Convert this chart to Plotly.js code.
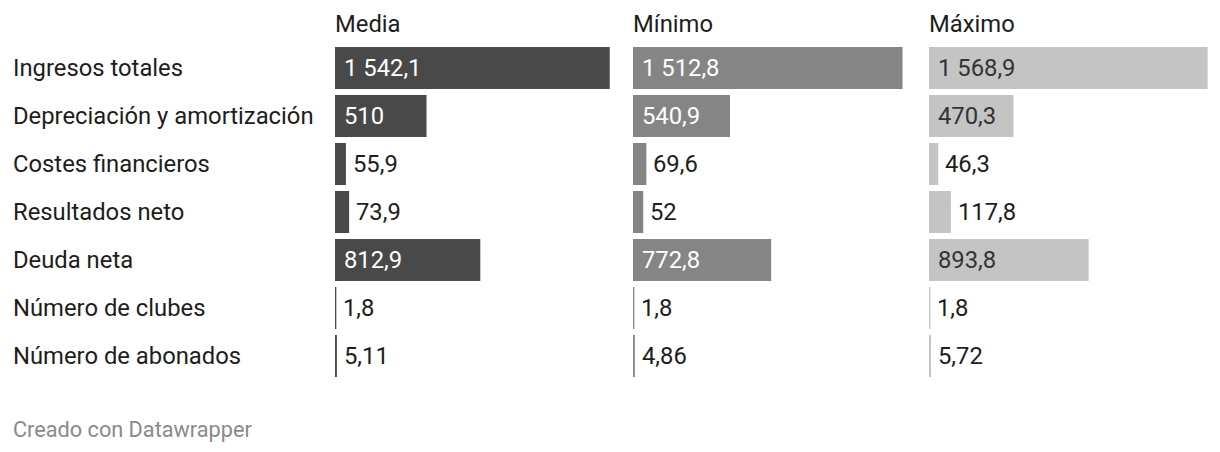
<!DOCTYPE html>
<html>
<head>
<meta charset="utf-8">
<script src="https://cdn.plot.ly/plotly-3.0.1.min.js"></script>
<style>
  html, body { margin: 0; padding: 0; background: #ffffff; }
  #chart { width: 1220px; height: 452px; }
</style>
</head>
<body>
<div id="chart"></div>
<script>
const categories = [
  "Ingresos totales",
  "Depreciación y amortización",
  "Costes financieros",
  "Resultados neto",
  "Deuda neta",
  "Número de clubes",
  "Número de abonados"
];
const seriesNames = ["Media", "Mínimo", "Máximo"];
const media  = [1542.1, 510, 55.9, 73.9, 812.9, 1.8, 5.11];
const minimo = [1512.8, 540.9, 69.6, 52, 772.8, 1.8, 4.86];
const maximo = [1568.9, 470.3, 46.3, 117.8, 893.8, 1.8, 5.72];
const valueLabels = [
  ["1 542,1", "510", "55,9", "73,9", "812,9", "1,8", "5,11"],
  ["1 512,8", "540,9", "69,6", "52", "772,8", "1,8", "4,86"],
  ["1 568,9", "470,3", "46,3", "117,8", "893,8", "1,8", "5,72"]
];

const W = 1220, H = 452;
const FONT = "Roboto, sans-serif";
const FS = 23.8;
const series = [media, minimo, maximo];
const barColors = ["#494949", "#858585", "#c4c4c4"];
const insideText = ["#ffffff", "#ffffff", "#333333"];
const colLeft = [334, 632, 928];
const colWidth = 278.5;
const xMax = 1568.9;

const traces = [];
const annotations = [];
const layout = {
  width: W, height: H,
  margin: {l: 0, r: 0, t: 0, b: 0},
  paper_bgcolor: "#ffffff",
  plot_bgcolor: "#ffffff",
  showlegend: false,
  bargap: 1 - 40/48,
  font: {family: FONT, size: FS, color: "#1d1d1d"},
  annotations: annotations
};

const yTop = 44, yBot = 380;
const yDomain = [1 - yBot / H, 1 - yTop / H];

series.forEach((vals, i) => {
  const ax = i === 0 ? "" : String(i + 1);
  traces.push({
    type: "bar",
    orientation: "h",
    x: vals,
    y: categories,
    xaxis: "x" + ax,
    yaxis: "y",
    marker: {color: barColors[i], line: {color: barColors[i], width: 2}},
    hoverinfo: "skip"
  });
  layout["xaxis" + ax] = {
    domain: [(colLeft[i] + 1) / W, (colLeft[i] + 1 + colWidth) / W],
    range: [0, xMax],
    showgrid: false, zeroline: false, showticklabels: false,
    showline: false, ticks: "", fixedrange: true
  };
  annotations.push({
    xref: "paper", yref: "paper",
    x: colLeft[i] / W, y: 1 - 24 / H,
    xanchor: "left", yanchor: "middle",
    xshift: -1,
    text: seriesNames[i], showarrow: false,
    font: {family: FONT, size: FS, color: "#1d1d1d"}
  });
  vals.forEach((v, j) => {
    const pxw = v / xMax * colWidth;
    const inside = pxw > 60;
    annotations.push({
      xref: "x" + ax, yref: "y",
      x: inside ? 0 : v, y: categories[j],
      xanchor: "left", yanchor: "middle",
      xshift: inside ? 7 : 6,
      text: valueLabels[i][j], showarrow: false,
      font: {family: FONT, size: FS, color: inside ? insideText[i] : "#1d1d1d"}
    });
  });
});

layout.yaxis = {
  domain: yDomain,
  type: "category",
  range: [categories.length - 0.5, -0.5],
  showgrid: false, zeroline: false, showticklabels: false,
  showline: false, ticks: "", fixedrange: true
};

categories.forEach((c) => {
  annotations.push({
    xref: "paper", yref: "y",
    x: 12 / W, y: c,
    xanchor: "left", yanchor: "middle",
    xshift: -1,
    text: c, showarrow: false,
    font: {family: FONT, size: FS, color: "#1d1d1d"}
  });
});

annotations.push({
  xref: "paper", yref: "paper",
  x: 12 / W, y: 1 - 429 / H,
  xanchor: "left", yanchor: "middle",
  xshift: -1,
  text: "Creado con Datawrapper", showarrow: false,
  font: {family: FONT, size: 21.7, color: "#8a8a8a"}
});

Plotly.newPlot("chart", traces, layout, {displayModeBar: false, staticPlot: true});
</script>
</body>
</html>
